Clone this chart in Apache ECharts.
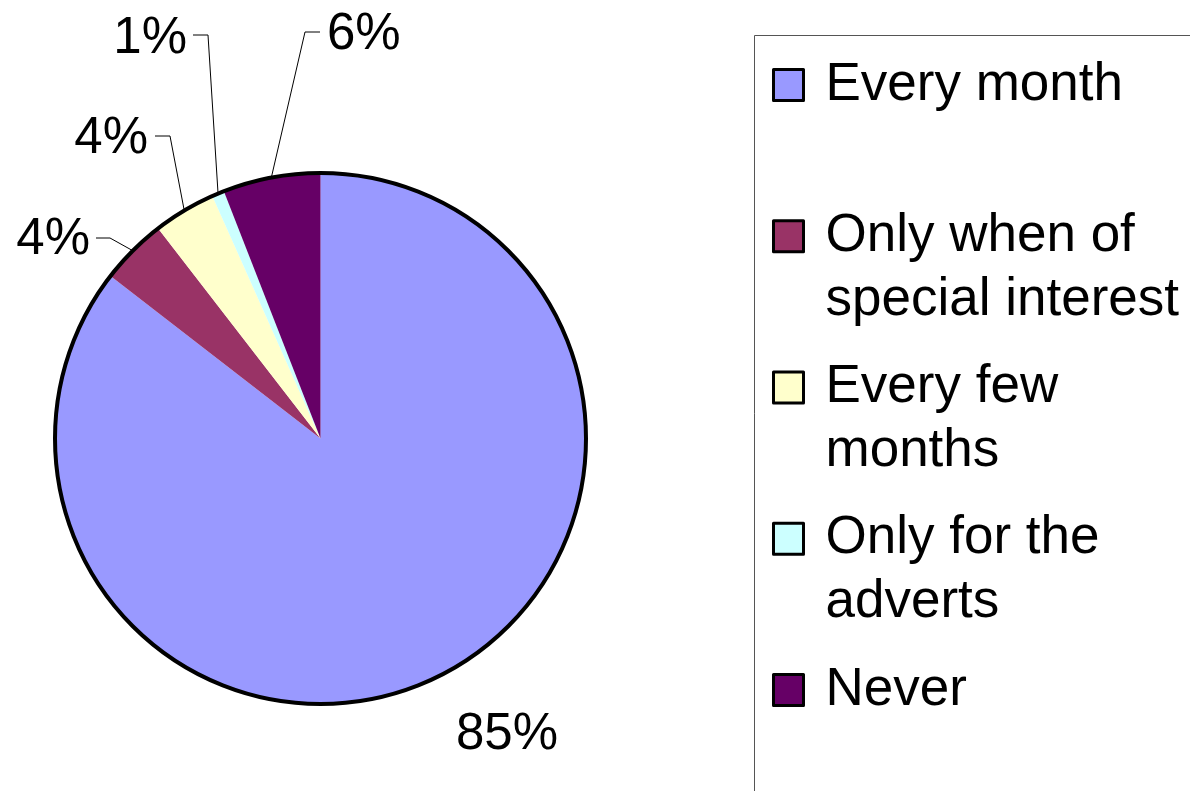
<!DOCTYPE html>
<html>
<head>
<meta charset="utf-8">
<title>How often do you read it</title>
<script src="https://cdn.jsdelivr.net/npm/echarts@6/dist/echarts.min.js"></script>
<style>
    html, body {margin: 0; padding: 0; background: #fff;}
    #main {width: 1190px; height: 791px;}
</style>
</head>
<body>
<div id="main"></div>
<script>
const categories = ['Every month', 'Only when of special interest', 'Every few months', 'Only for the adverts', 'Never'];
const legendLines = [['Every month'], ['Only when of', 'special interest'], ['Every few', 'months'], ['Only for the', 'adverts'], ['Never']];
const values = [85.48, 4.05, 3.79, 0.75, 5.93];
const colors = ['#9999ff', '#993366', '#ffffcc', '#ccffff', '#660066'];

// where each percentage label sits, with the bend of its leader line
const labelSpots = [
    {text: [507, 735], align: 'center'},
    {elbow: [110, 238], end: [96, 238], text: [90, 240], align: 'right'},
    {elbow: [170, 136], end: [155, 136], text: [148, 139], align: 'right'},
    {elbow: [208, 35], end: [193, 35], text: [187, 39], align: 'right'},
    {elbow: [305, 32], end: [320, 32], text: [327, 35], align: 'left'},
];

const FONT = '"Liberation Sans", Arial, sans-serif';
const LINE_H = 64;

var myChart = echarts.init(document.getElementById('main'));

// one legend per entry; a blank line above two-line names keeps the
// marker level with the first line, like the original
const legends = categories.map((name, i) => {
    const multi = legendLines[i].length > 1;
    return {
        data: [name],
        orient: 'vertical',
        left: 772,
        top: 85 + i * 151.25 - LINE_H / 2 - (multi ? LINE_H : 0),
        padding: 0,
        icon: 'rect',
        itemWidth: 30,
        itemHeight: 31,
        selectedMode: false,
        itemStyle: {borderColor: '#000', borderWidth: 3},
        formatter: () => (multi ? '\n' : '') + legendLines[i].join('\n'),
        textStyle: {
            fontFamily: FONT,
            fontSize: 53,
            color: '#000',
            lineHeight: LINE_H,
            padding: [0, 0, 0, 17],
        },
    };
});

var option = {
    animation: false,
    color: colors,
    legend: legends,
    graphic: [{
        type: 'rect',
        silent: true,
        z: -1,
        shape: {x: 754.5, y: 35.5, width: 600, height: 900},
        style: {fill: 'none', stroke: '#555', lineWidth: 1},
    }],
    series: [
        {
            type: 'pie',
            center: [320.5, 438.5],
            radius: 265.5,
            startAngle: 90,
            clockwise: true,
            percentPrecision: 0,
            avoidLabelOverlap: false,
            emphasis: {disabled: true},
            itemStyle: {borderWidth: 0},
            label: {
                show: true,
                position: 'outside',
                formatter: '{d}%',
                fontFamily: FONT,
                fontSize: 51,
                color: '#000',
            },
            labelLine: {show: true, lineStyle: {color: '#000', width: 1}},
            labelLayout: function (params) {
                const spot = labelSpots[params.dataIndex];
                const out = {
                    x: spot.text[0],
                    y: spot.text[1],
                    align: spot.align,
                    verticalAlign: 'middle',
                };
                if (spot.elbow && params.labelLinePoints) {
                    out.labelLinePoints = [params.labelLinePoints[0], spot.elbow, spot.end];
                }
                return out;
            },
            data: categories.map((name, i) => ({
                name: name,
                value: values[i],
                itemStyle: {color: colors[i]},
                labelLine: {show: i !== 0},
            })),
        },
        {
            // black rim round the whole pie, no lines between slices
            type: 'pie',
            center: [320.5, 438.5],
            radius: 265.5,
            silent: true,
            z: 3,
            emphasis: {disabled: true},
            label: {show: false},
            labelLine: {show: false},
            itemStyle: {color: 'rgba(0,0,0,0)', borderColor: '#000', borderWidth: 4},
            data: [{name: 'rim', value: 1}],
        },
    ],
};

myChart.setOption(option);
</script>
</body>
</html>
